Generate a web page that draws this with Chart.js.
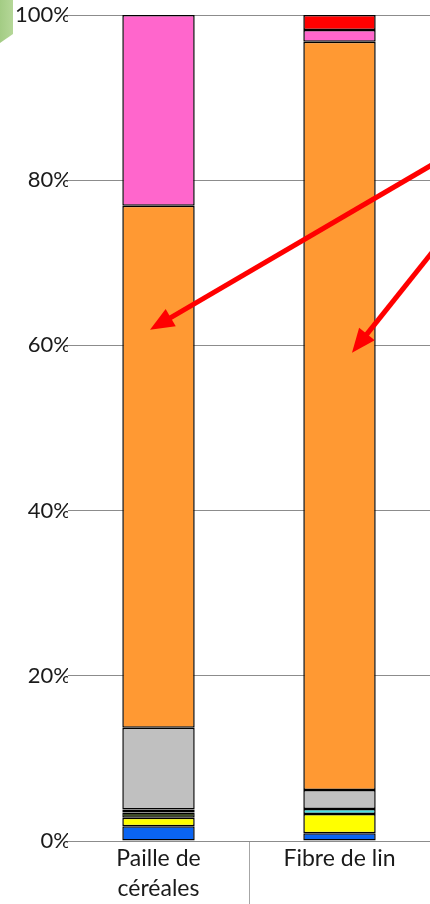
<!DOCTYPE html>
<html>
<head>
<meta charset="utf-8">
<script src="https://cdn.jsdelivr.net/npm/chart.js@4.4.1/dist/chart.umd.min.js"></script>
<style>
  html, body { margin: 0; padding: 0; background: #ffffff; }
  #wrap { position: relative; width: 430px; height: 904px; overflow: hidden; }
  #deco { position: absolute; left: 0; top: 0; width: 13px; height: 43px;
          background: linear-gradient(90deg, #a3cc84, #b5d798);
          clip-path: polygon(0 0, 100% 0, 100% 79%, 0 100%); z-index: 2; }
</style>
</head>
<body>
<div id="wrap">
  <div id="deco"></div>
  <canvas id="c" width="430" height="904"></canvas>
</div>
<script>
// Categories
const categories = [['Paille de', 'céréales'], 'Fibre de lin'];

// Series values (% of total), stacked bottom to top
const seriesBlue   = [1.78, 0.93];
const seriesYellow = [1.04, 2.34];
const seriesOlive  = [0.63, 0.00];
const seriesCyan   = [0.35, 0.60];
const seriesGray   = [9.90, 2.30];
const seriesOrange = [63.20, 90.60];
const seriesPink   = [23.10, 1.41];
const seriesRed    = [0.00, 1.82];

// Y axis tick values
const yTicks = [0, 20, 40, 60, 80, 100];

// Annotation arrows (category index, value %) : from -> to
const arrowFrom = [[1.60, 83.0], [1.60, 73.7]];
const arrowTo   = [[-0.047, 61.9], [1.069, 59.1]];

const seriesDefs = [
  ['Bleu', seriesBlue, '#0a64f2'],
  ['Jaune', seriesYellow, '#ffff00'],
  ['Olive', seriesOlive, '#3d4a27'],
  ['Cyan', seriesCyan, '#4ddede'],
  ['Gris', seriesGray, '#c0c0c0'],
  ['Orange', seriesOrange, '#ff9933'],
  ['Rose', seriesPink, '#ff66cc'],
  ['Rouge', seriesRed, '#ff0000']
];

const datasets = seriesDefs.map(([label, data, color]) => ({
  label, data,
  backgroundColor: color,
  borderColor: '#000000',
  borderWidth: 1.5,
  borderSkipped: false,
  barPercentage: 0.4,
  categoryPercentage: 1.0
}));

const arrowPlugin = {
  id: 'arrows',
  afterDatasetsDraw(chart) {
    const ctx = chart.ctx;
    const xs = chart.scales.x, ys = chart.scales.y;
    ctx.save();
    ctx.strokeStyle = '#ff0000';
    ctx.fillStyle = '#ff0000';
    ctx.lineWidth = 5;
    for (let i = 0; i < arrowFrom.length; i++) {
      const x1 = xs.getPixelForValue(arrowFrom[i][0]);
      const y1 = ys.getPixelForValue(arrowFrom[i][1]);
      const x2 = xs.getPixelForValue(arrowTo[i][0]);
      const y2 = ys.getPixelForValue(arrowTo[i][1]);
      const ang = Math.atan2(y2 - y1, x2 - x1);
      const headLen = 24, headW = 10;
      const bx = x2 - headLen * Math.cos(ang);
      const by = y2 - headLen * Math.sin(ang);
      ctx.beginPath();
      ctx.moveTo(x1, y1);
      ctx.lineTo(bx + 2 * Math.cos(ang), by + 2 * Math.sin(ang));
      ctx.stroke();
      ctx.beginPath();
      ctx.moveTo(x2, y2);
      ctx.lineTo(bx + headW * Math.sin(ang), by - headW * Math.cos(ang));
      ctx.lineTo(bx - headW * Math.sin(ang), by + headW * Math.cos(ang));
      ctx.closePath();
      ctx.fill();
    }
    ctx.restore();
  }
};

new Chart(document.getElementById('c'), {
  type: 'bar',
  data: { labels: categories, datasets },
  options: {
    responsive: false,
    animation: false,
    layout: { padding: { left: 12, top: 15, right: 0, bottom: 0 } },
    plugins: { legend: { display: false }, tooltip: { enabled: false } },
    scales: {
      x: {
        stacked: true,
        offset: true,
        afterFit(s) { s.height = 63; },
        grid: {
          offset: true,
          drawOnChartArea: false,
          drawTicks: true,
          tickLength: 63,
          lineWidth: 1,
          color: (c) => c.index === 1 ? '#a6a6a6' : 'rgba(0,0,0,0)'
        },
        border: { display: true, color: '#8c8c8c', width: 1 },
        ticks: {
          color: '#1a1a1a',
          font: { family: 'Lato', size: 23, lineHeight: 1.3 },
          padding: -60,
          maxRotation: 0,
          autoSkip: false
        }
      },
      y: {
        stacked: true,
        min: 0,
        max: 100,
        afterFit(s) { s.width = 56; },
        afterBuildTicks(s) { s.ticks = yTicks.map(v => ({ value: v })); },
        grid: { color: '#8c8c8c', lineWidth: 1, drawTicks: false },
        border: { display: false },
        ticks: {
          color: '#1a1a1a',
          font: { family: 'Lato', size: 22 },
          padding: -3,
          callback: (v) => v + '%'
        }
      }
    }
  },
  plugins: [arrowPlugin]
});
</script>
</body>
</html>
